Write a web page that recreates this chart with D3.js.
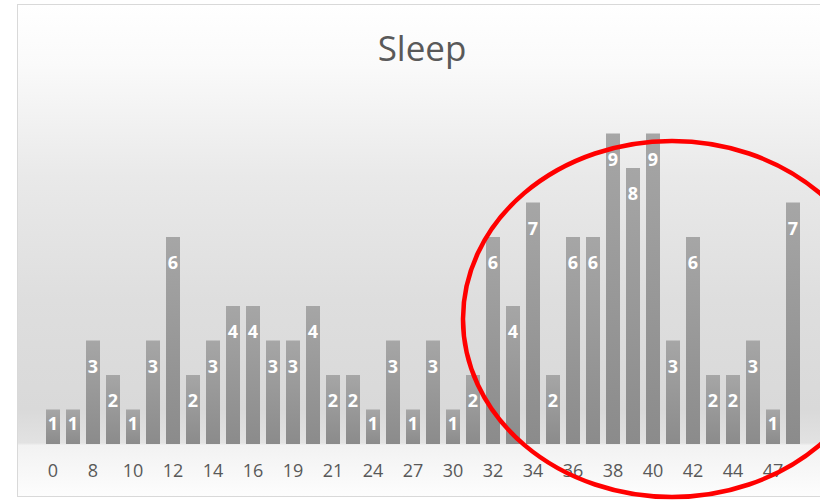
<!DOCTYPE html>
<html>
<head>
<meta charset="utf-8">
<script src="https://cdn.jsdelivr.net/npm/d3@7"></script>
<style>
  html, body { margin: 0; padding: 0; background: #ffffff; }
  svg { display: block; }
</style>
</head>
<body>
<svg id="chart" width="820" height="500"></svg>
<script>
const title = "Sleep";
const categories = ["0","6","8","9","10","11","12","13","14","15","16","18","19","20","21","23","24","26","27","29","30","31","32","33","34","35","36","37","38","39","40","41","42","43","44","46","47","48"];
const values = [1,1,3,2,1,3,6,2,3,4,4,3,3,4,2,2,1,3,1,3,1,2,6,4,7,2,6,6,9,8,9,3,6,2,2,3,1,7];
const yDomain = [0, 10];

const svg = d3.select("#chart");
const frame = {x: 17.5, y: 4.5, w: 830, h: 492};
const plot = {left: 43, right: 803, top: 99, bottom: 444};

const defs = svg.append("defs");
const bg = defs.append("linearGradient").attr("id", "bgGrad")
  .attr("gradientUnits", "userSpaceOnUse").attr("x1", 0).attr("y1", 5).attr("x2", 0).attr("y2", 497);
[[0, "#ffffff"], [0.12, "#fafafa"], [0.35, "#e9e9e9"], [0.6, "#dedede"], [0.82, "#d9d9d9"], [0.89, "#e2e2e2"], [0.895, "#f2f2f2"], [1, "#fdfdfd"]]
  .forEach(([o, c]) => bg.append("stop").attr("offset", o).attr("stop-color", c));

const barGrad = defs.append("linearGradient").attr("id", "barGrad")
  .attr("x1", 0).attr("y1", 0).attr("x2", 0).attr("y2", 1);
[[0, "#a6a6a6"], [1, "#8b8b8b"]].forEach(([o, c]) => barGrad.append("stop").attr("offset", o).attr("stop-color", c));

svg.append("rect").attr("x", frame.x).attr("y", frame.y).attr("width", frame.w).attr("height", frame.h)
  .attr("fill", "url(#bgGrad)").attr("stroke", "#d9d9d9").attr("stroke-width", 1);

svg.append("text").attr("x", 422).attr("y", 61).attr("text-anchor", "middle")
  .attr("font-family", "'Open Sans', sans-serif").attr("font-size", 35).attr("fill", "#595959")
  .text(title);

const x = d3.scaleBand().domain(categories).range([plot.left, plot.right]).paddingInner(0.3).paddingOuter(0.15);
const y = d3.scaleLinear().domain(yDomain).range([plot.bottom, plot.top]);

const data = categories.map((c, i) => ({c, v: values[i]}));

svg.append("g").selectAll("rect").data(data).join("rect")
  .attr("x", d => x(d.c)).attr("y", d => y(d.v))
  .attr("width", x.bandwidth()).attr("height", d => y(0) - y(d.v))
  .attr("fill", "url(#barGrad)");

svg.append("g").selectAll("text").data(data).join("text")
  .attr("x", d => x(d.c) + x.bandwidth() / 2)
  .attr("y", d => {
    const h = y(0) - y(d.v);
    const off = h >= 60 ? 26 : h / 2 - 3;
    return y(d.v) + off;
  })
  .attr("dy", "0.36em")
  .attr("text-anchor", "middle")
  .attr("font-family", "'Open Sans', sans-serif").attr("font-weight", "bold").attr("font-size", 18)
  .attr("fill", "#ffffff")
  .text(d => d.v);

const axis = d3.axisBottom(x).tickSize(0).tickPadding(0)
  .tickFormat((d, i) => i % 2 === 0 ? d : "");
const ag = svg.append("g").attr("transform", `translate(0,${plot.bottom})`).call(axis);
ag.select(".domain").remove();
ag.selectAll("text").attr("y", 27).attr("dy", "0.36em")
  .attr("font-family", "'Open Sans', sans-serif").attr("font-size", 18).attr("fill", "#595959");

svg.append("ellipse").attr("cx", 672).attr("cy", 319).attr("rx", 209).attr("ry", 178)
  .attr("fill", "none").attr("stroke", "#ff0000").attr("stroke-width", 4.5);
</script>
</body>
</html>
